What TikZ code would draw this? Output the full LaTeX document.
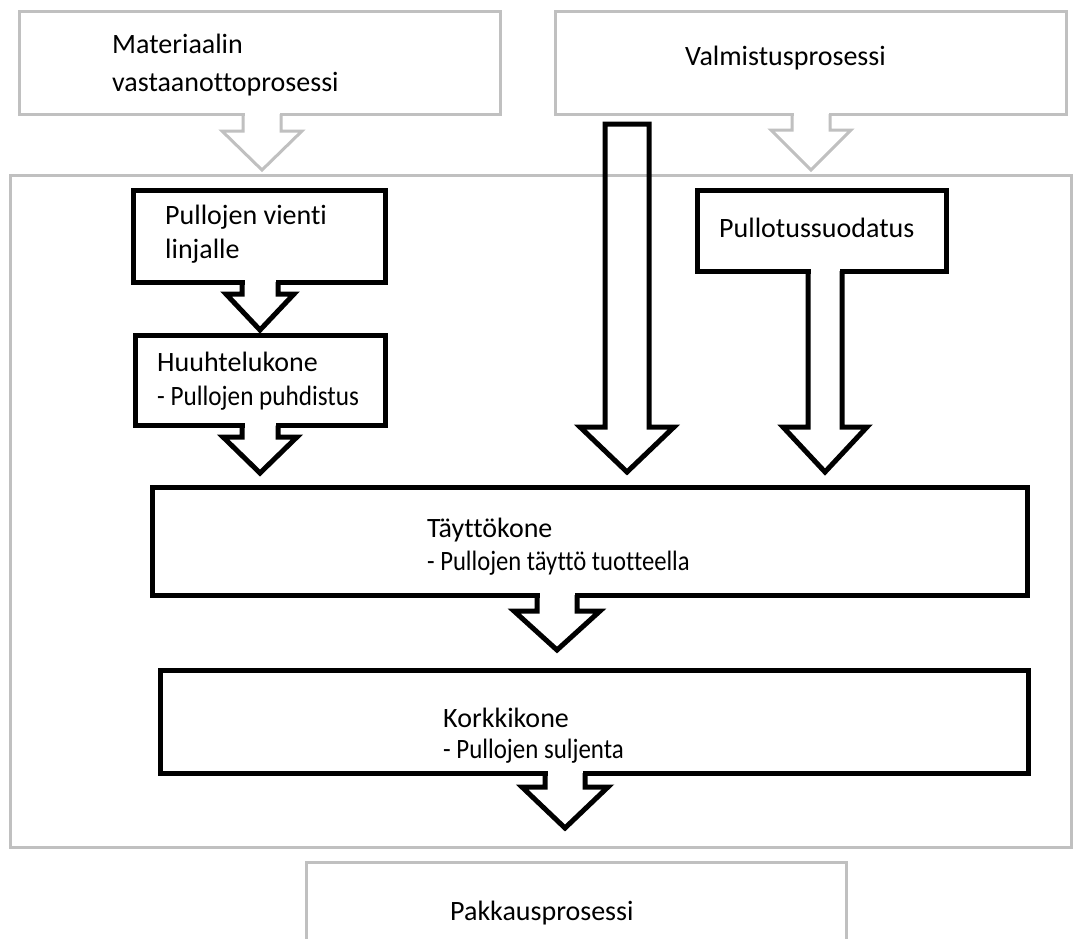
\documentclass[tikz,border=0pt]{standalone}
\usepackage{fontspec}
\setmainfont{Carlito}[Ligatures=NoCommon]
\usetikzlibrary{calc}
\definecolor{lgray}{RGB}{192,192,192}
\tikzset{
  graybox/.style={draw=lgray, line width=3pt, outer sep=0pt, inner sep=0pt, rectangle},
  blackbox/.style={draw=black, line width=5pt, outer sep=0pt, inner sep=0pt, rectangle, line join=miter},
  lbl/.style={anchor=west, inner sep=0pt, font=\fontsize{28}{34}\selectfont},
  grayarrow/.style={draw=lgray, line width=3pt, line join=miter},
  blackarrow/.style={draw=black, line width=5pt, line join=miter},
}
% #1 style, #2 box node, #3 tip coordinate, #4 shaft half width, #5 head half width, #6 head length, #7 half line width
\newcommand\blockarrow[7]{%
  \fill[white] let \p1=(#2.south), \p2=(#3) in ({\x2-#4+#7},{\y1+#7+0.6pt}) rectangle ({\x2+#4-#7},{\y1-#7-0.6pt});
  \draw[#1] let \p1=(#2.south), \p2=(#3) in ({\x2-#4},\y1) -- ({\x2-#4},{\y2+#6}) -- ({\x2-#5},{\y2+#6}) -- (\p2) -- ({\x2+#5},{\y2+#6}) -- ({\x2+#4},{\y2+#6}) -- ({\x2+#4},\y1);
}
\begin{document}
\begin{tikzpicture}[x=1pt,y=-1pt]
\clip (0,0) rectangle (1074,938);
\fill[white] (0,0) rectangle (1074,938);

% outer frame and gray process boxes
\node[graybox, minimum width=1061pt, minimum height=672pt] (frame) at (540.5,511) {};
\node[graybox, minimum width=481pt, minimum height=103pt] (mat) at (259.5,62.5) {};
\node[graybox, minimum width=511pt, minimum height=103pt] (val) at (810.5,62.5) {};
\node[graybox, minimum width=540pt, minimum height=100pt] (pakk) at (576,912) {};

% black boxes
\node[blackbox, minimum width=252pt, minimum height=92pt] (vienti) at (259,236) {};
\node[blackbox, minimum width=249pt, minimum height=81pt] (suod) at (821.5,230.5) {};
\node[blackbox, minimum width=250pt, minimum height=90pt] (huuh) at (260,380.5) {};
\node[blackbox, minimum width=875pt, minimum height=108pt] (tayt) at (589.5,541) {};
\node[blackbox, minimum width=868pt, minimum height=103pt] (kork) at (594,721.5) {};

% arrow tips
\coordinate (tipmat) at (262,170);
\coordinate (tipval) at (811,170);
\coordinate (tipvienti) at (260,330);
\coordinate (tipsuod) at (825,472);
\coordinate (tiphuuh) at (260,473);
\coordinate (tiptayt) at (557,650);
\coordinate (tipkork) at (565,828);
\coordinate (longtop) at (627,124);
\coordinate (longtip) at (627,472);

% block arrows
\blockarrow{grayarrow}{mat}{tipmat}{19pt}{40pt}{39pt}{1.5pt}
\blockarrow{grayarrow}{val}{tipval}{19pt}{40pt}{40pt}{1.5pt}
\blockarrow{blackarrow}{vienti}{tipvienti}{18pt}{34pt}{36pt}{2.5pt}
\blockarrow{blackarrow}{suod}{tipsuod}{17pt}{42pt}{45pt}{2.5pt}
\blockarrow{blackarrow}{huuh}{tiphuuh}{18pt}{37pt}{36pt}{2.5pt}
\blockarrow{blackarrow}{tayt}{tiptayt}{20pt}{43pt}{39pt}{2.5pt}
\blockarrow{blackarrow}{kork}{tipkork}{20pt}{43pt}{41pt}{2.5pt}
\draw[blackarrow] let \p1=(longtop), \p2=(longtip) in
  ({\x2-22pt},\y1) -- ({\x2-22pt},{\y2+45pt}) -- ({\x2-47pt},{\y2+45pt}) -- (\p2)
  -- ({\x2+47pt},{\y2+45pt}) -- ({\x2+22pt},{\y2+45pt}) -- ({\x2+22pt},\y1) -- cycle;

% labels
\node[lbl] (lmat1) at (112,44) {Materiaalin};
\node[lbl] (lmat2) at (112,84) {vastaanottoprosessi};
\node[lbl] (lval) at (685,58) {Valmistusprosessi};
\node[lbl] (lvie1) at (165,217) {Pullojen vienti};
\node[lbl] (lvie2) at (165,251) {linjalle};
\node[lbl] (lsuod) at (719,228) {Pullotussuodatus};
\node[lbl] (lhuu1) at (157,362) {Huuhtelukone};
\node[lbl] (lhuu2) at (157,398) {\scalebox{0.9}[1]{- Pullojen puhdistus}};
\node[lbl] (ltay1) at (427,530) {Täyttökone};
\node[lbl] (ltay2) at (427,563) {\scalebox{0.88}[1]{- Pullojen täyttö tuotteella}};
\node[lbl] (lkor1) at (443,718) {Korkkikone};
\node[lbl] (lkor2) at (443,751) {\scalebox{0.89}[1]{- Pullojen suljenta}};
\node[lbl] (lpak) at (450,913) {Pakkausprosessi};
\end{tikzpicture}
\end{document}
